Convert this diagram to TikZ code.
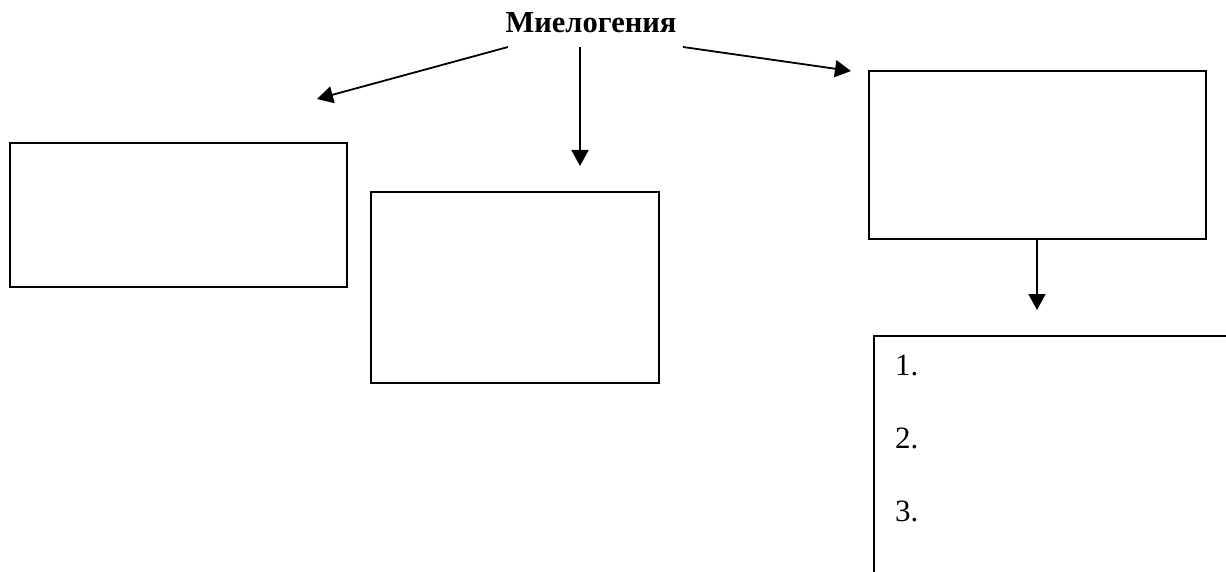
\documentclass[tikz,border=0pt]{standalone}
\usepackage{fontspec}
\setmainfont{Liberation Serif}
\usetikzlibrary{arrows.meta}
\tikzset{
  blank/.style={draw,line width=1.8pt,rectangle,inner sep=0pt},
  pointer/.style={line width=1.8pt,-{Triangle[length=16pt,width=17pt]}}
}
\begin{document}
\begin{tikzpicture}[x=1pt,y=-1pt]
\useasboundingbox (0,0) rectangle (1226,572);
\clip (0,0) rectangle (1226,572);

          \node[font=\fontsize{30.5}{36}\selectfont\bfseries,inner sep=0pt,anchor=base] (title) at (591,33) {Миелогения};

          \node[blank,minimum width=337pt,minimum height=144pt] (left) at (178.5,215) {};
          \node[blank,minimum width=288pt,minimum height=191pt] (mid) at (515,287.5) {};
          \node[blank,minimum width=337pt,minimum height=168pt] (right) at (1037.5,155) {};
          \node[blank,minimum width=380pt,minimum height=280pt,anchor=north west] (list) at (873,335) {};

          \coordinate (lstart) at (508,47);
          \coordinate (mstart) at (580,47);
          \coordinate (rstart) at (683,47);
          \coordinate (ltip) at (317,99);
          \coordinate (mtip) at (580,166);
          \coordinate (rtip) at (851,71);
          \coordinate (dtip) at (1037,310);

          \draw[pointer] (lstart) -- (ltip);
          \draw[pointer] (mstart) -- (mtip);
          \draw[pointer] (rstart) -- (rtip);
          \draw[pointer] (right.south -| dtip) -- (dtip);

          \foreach \n in {1,2,3}
          {
            \node[font=\fontsize{31}{36}\selectfont,inner sep=0pt,anchor=base west] (item\n) at (895,375+73*\n-73) {\n.};
          }

\end{tikzpicture}
\end{document}
